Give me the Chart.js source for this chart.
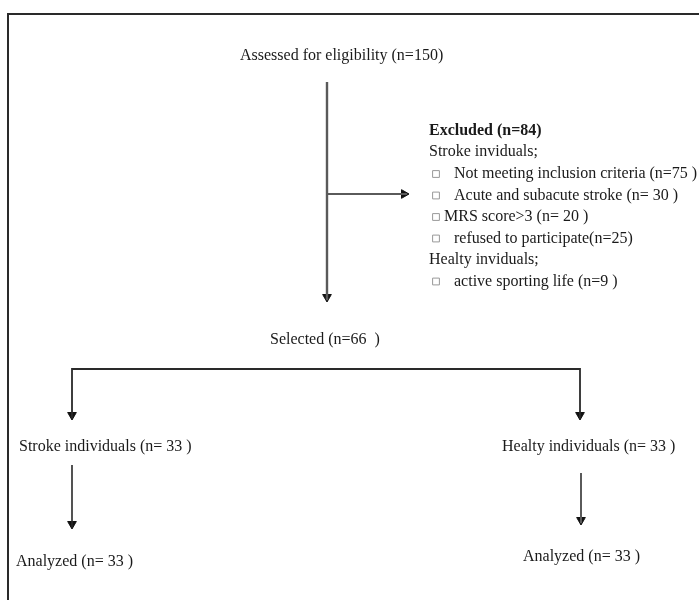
<!DOCTYPE html>
<html>
<head>
<meta charset="utf-8">
<script src="https://cdn.jsdelivr.net/npm/chart.js@4/dist/chart.umd.min.js"></script>
<style>
  html, body { margin: 0; padding: 0; background: #fff; }
  #wrap { width: 699px; height: 600px; }
</style>
</head>
<body>
<div id="wrap"><canvas id="c" width="699" height="600"></canvas></div>
<script>
// ---- content (text of the flow diagram) ----
const stageLabels = ['Assessed for eligibility (n=150)', 'Selected (n=66  )'];
const excludedHeader = ['Excluded (n=84)'];
const excludedGroups = ['Stroke inviduals;', 'Healty inviduals;'];
const excludedItems = [
  'Not meeting inclusion criteria (n=75 )',
  'Acute and subacute stroke (n= 30 )',
  'MRS score>3 (n= 20 )',
  'refused to participate(n=25)',
  'active sporting life (n=9 )'
];
const groupLabels = ['Stroke individuals (n= 33 )', 'Healty individuals (n= 33 )'];
const analyzedLabels = ['Analyzed (n= 33 )', 'Analyzed (n= 33 )'];

// ---- layout (diagram coordinates on a 699 x 600 grid) ----
const stageX = [240, 270];
const stageY = [56, 340];
const exclX = 429, exclItemX = [454, 454, 444, 454, 454], boxX = 436;
const exclHeaderY = [131];
const exclGroupY = [152, 260];
const exclItemY = [174, 195.5, 217, 238.5, 281.5];
const groupX = [19, 502], groupY = [447, 447];
const analyzedX = [16, 523], analyzedY = [562, 557];

const mainLine = [{x:327,y:82},{x:327,y:300}];
const sideLine = [{x:327,y:194},{x:407,y:194}];
const splitLine = [{x:72,y:418},{x:72,y:369},{x:580,y:369},{x:580,y:418}];
const leftArrowLine = [{x:72,y:465},{x:72,y:527}];
const rightArrowLine = [{x:581,y:473},{x:581,y:523}];
const frameLine = [{x:720,y:14},{x:8,y:14},{x:8,y:620}];

const headR = 5;
const arrowTips = [
  {x:327,y:302,rot:180},{x:409,y:194,rot:90},
  {x:72,y:420,rot:180},{x:580,y:420,rot:180},
  {x:72,y:529,rot:180},{x:581,y:525,rot:180}
];
function headCenter(t){
  if (t.rot === 90) return {x: t.x - headR, y: t.y};
  return {x: t.x, y: t.y - headR};
}

const FONT = '"Liberation Serif", "Times New Roman", serif';
const TXT = '#1a1a1a';

const textPlugin = {
  id: 'flowText',
  afterDatasetsDraw(chart) {
    const {ctx, scales:{x, y}} = chart;
    ctx.save();
    ctx.fillStyle = TXT;
    ctx.textBaseline = 'middle';
    ctx.textAlign = 'left';
    const put = (s, px, py, bold) => {
      ctx.font = (bold ? 'bold ' : '') + '16px ' + FONT;
      ctx.fillText(s, x.getPixelForValue(px), y.getPixelForValue(py));
    };
    stageLabels.forEach((s,i) => put(s, stageX[i], stageY[i]));
    excludedHeader.forEach((s,i) => put(s, exclX, exclHeaderY[i], true));
    excludedGroups.forEach((s,i) => put(s, exclX, exclGroupY[i]));
    excludedItems.forEach((s,i) => put(s, exclItemX[i], exclItemY[i]));
    groupLabels.forEach((s,i) => put(s, groupX[i], groupY[i]));
    analyzedLabels.forEach((s,i) => put(s, analyzedX[i], analyzedY[i]));
    ctx.restore();
  }
};

const lineDs = (data, color, w) => ({
  data, showLine: true, borderColor: color, borderWidth: w,
  pointRadius: 0, pointHoverRadius: 0, fill: false, tension: 0,
  borderCapStyle: 'butt', borderJoinStyle: 'miter'
});

new Chart(document.getElementById('c'), {
  type: 'scatter',
  data: {
    datasets: [
      lineDs(frameLine, '#2a2a2a', 2),
      lineDs(mainLine, '#5a5a5a', 2.4),
      lineDs(sideLine, '#5a5a5a', 2.2),
      lineDs(splitLine, '#2a2a2a', 1.8),
      lineDs(leftArrowLine, '#2a2a2a', 1.6),
      lineDs(rightArrowLine, '#5a5a5a', 2),
      {
        data: arrowTips.map(headCenter),
        pointStyle: 'triangle',
        rotation: arrowTips.map(t => t.rot),
        pointRadius: headR, pointHoverRadius: headR,
        backgroundColor: '#111', borderColor: '#111', borderWidth: 1,
        showLine: false
      },
      {
        data: exclItemY.map(v => ({x: boxX, y: v})),
        pointStyle: 'rect',
        pointRadius: 4.8, pointHoverRadius: 4.8,
        backgroundColor: 'rgba(0,0,0,0)', borderColor: '#999', borderWidth: 1,
        showLine: false
      }
    ]
  },
  options: {
    responsive: false,
    animation: false,
    events: [],
    layout: { padding: 0, autoPadding: false },
    plugins: { legend: { display: false }, tooltip: { enabled: false } },
    scales: {
      x: { type: 'linear', min: 0, max: 699, display: false },
      y: { type: 'linear', min: 0, max: 600, reverse: true, display: false }
    }
  },
  plugins: [textPlugin]
});
</script>
</body>
</html>
